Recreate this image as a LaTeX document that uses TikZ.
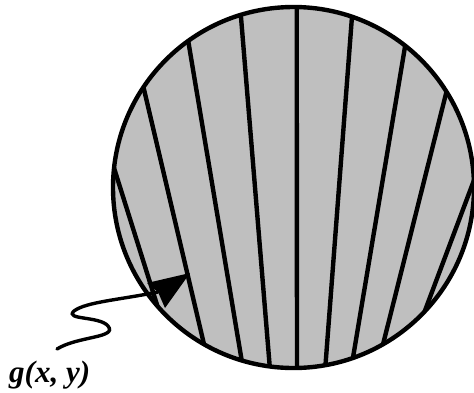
\documentclass[tikz,border=0pt]{standalone}
\usepackage{fontspec}
\setmainfont{Liberation Serif}
\begin{document}
\begin{tikzpicture}[x=1pt,y=-1pt,
  chord/.style={line width=4.4pt},
  rim/.style={line width=4.4pt},
  pointer/.style={line width=3.4pt,line cap=round},
  head/.style={fill=black},
  lbl/.style={font=\fontsize{31}{34}\selectfont\bfseries\itshape, inner sep=0pt, anchor=base west}]
\useasboundingbox (0,0) rectangle (474,392);
\coordinate (C) at (293.5,187.5);
\fill[black!25] (C) circle[radius=180.5];
\begin{scope}
  \clip (C) circle[radius=180.5];
  \foreach \a/\b in {-172.1/137.2, -145.5/119, -125.3/106.3, -106.8/97.4, -89/88.9, -71.3/80, -52.2/71.2, -32.8/61, -4/45.2}
    \draw[chord] ([shift={(\a:183)}]C) -- ([shift={(\b:183)}]C);
\end{scope}
\draw[rim] (C) circle[radius=180.5];
\node[lbl] (g) at (9,382) {g(x, y)};
\coordinate (s) at (57,349);
\coordinate (notch) at (158,292);
\coordinate (tip) at (190,273);
\draw[pointer] (s) .. controls (78,336) and (118,338) .. (108,326)
  .. controls (100,316) and (64,320) .. (74,311)
  .. controls (86,302) and (118,300) .. (notch);
\fill[head] (tip) -- (147,283) -- (notch) -- (165,308) -- cycle;
\end{tikzpicture}
\end{document}
